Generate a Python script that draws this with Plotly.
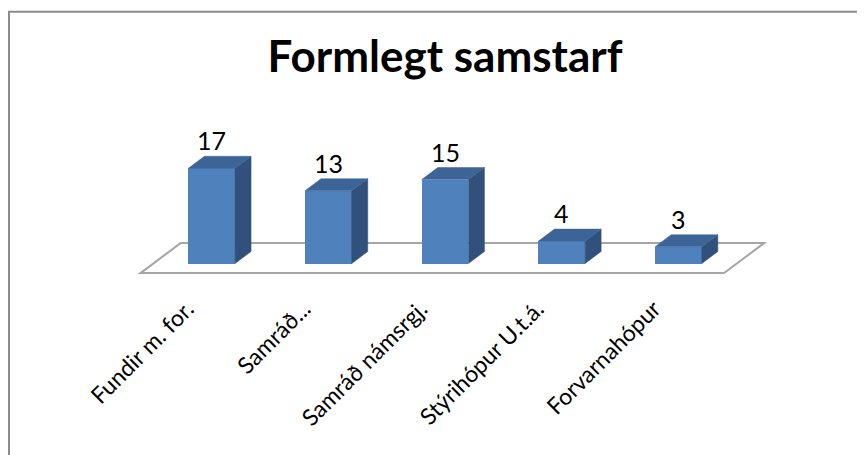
import plotly.graph_objects as go

# ---- data ----
categories = ["Fundir m. for.", "Samráð...", "Samráð námsrgj.", "Stýrihópur U.t.á.", "Forvarnahópur"]
values = [17, 13, 15, 4, 3]
title_text = "Formlegt samstarf"

# ---- style / geometry constants (oblique 3D look) ----
FONT = "Lato, Carlito, Calibri, 'Open Sans', sans-serif"
FRONT = "#4F81BD"
TOP = "#3C6496"
SIDE = "#31507B"
FLOOR_LINE = "#A6A6A6"
BAR_W = 0.4           # bar width in category units
DX = 0.3426           # x shift per unit depth (category units)
DY = 5.357            # y shift per unit depth (value units)
BAR_DEPTH = 0.4
FLOOR_FRONT = -0.32
FLOOR_BACK = 0.68
LABEL_SHIFT = -0.1    # category-label anchor offset (category units)

W, H = 857, 447
X_RANGE = [-1.7455, 5.598]
Y_RANGE = [-34.196, 45.625]


def proj(x, v, d):
    return x + d * DX, v + d * DY


fig = go.Figure()

# floor (drawn below everything)
n = len(categories)
corners = [proj(-0.5, 0, FLOOR_FRONT), proj(n - 0.5, 0, FLOOR_FRONT),
           proj(n - 0.5, 0, FLOOR_BACK), proj(-0.5, 0, FLOOR_BACK)]
path = "M " + " L ".join(f"{x},{y}" for x, y in corners) + " Z"
fig.add_shape(type="path", path=path, xref="x", yref="y", layer="below",
              line=dict(color=FLOOR_LINE, width=2), fillcolor="rgba(0,0,0,0)")

# front faces
fig.add_trace(go.Bar(x=list(range(n)), y=values, width=BAR_W,
                     marker=dict(color=FRONT, line=dict(width=0)),
                     hoverinfo="skip", showlegend=False))

# side and top faces
for i, v in enumerate(values):
    xr = i + BAR_W / 2
    xl = i - BAR_W / 2
    side = [proj(xr, 0, 0), proj(xr, 0, BAR_DEPTH), proj(xr, v, BAR_DEPTH), proj(xr, v, 0)]
    top = [proj(xl, v, 0), proj(xr, v, 0), proj(xr, v, BAR_DEPTH), proj(xl, v, BAR_DEPTH)]
    for pts, col in ((side, SIDE), (top, TOP)):
        fig.add_trace(go.Scatter(x=[p[0] for p in pts] + [pts[0][0]],
                                 y=[p[1] for p in pts] + [pts[0][1]],
                                 mode="lines", fill="toself", fillcolor=col,
                                 line=dict(color=col, width=0.5),
                                 hoverinfo="skip", showlegend=False))
    lx, ly = proj(i, v, BAR_DEPTH)
    fig.add_annotation(x=i, y=ly, text=str(v), showarrow=False, yshift=16,
                       yanchor="middle", xanchor="center",
                       font=dict(family=FONT, size=25, color="black"))

# border
fig.add_shape(type="rect", xref="paper", yref="paper",
              x0=1 / W, x1=1.2, y0=-0.2, y1=1 - 3.8 / H,
              line=dict(color="#8C8C8C", width=2), layer="below")

fig.update_layout(
    width=W, height=H,
    margin=dict(l=0, r=0, t=0, b=0),
    paper_bgcolor="white", plot_bgcolor="white",
    title=dict(text=f"<b>{title_text}</b>", x=437 / W, y=1 - 49 / H,
               xanchor="center", yanchor="middle", xref="paper", yref="paper",
               font=dict(family=FONT, size=44, color="black")),
    xaxis=dict(range=X_RANGE,
               tickvals=[i + FLOOR_FRONT * DX + LABEL_SHIFT for i in range(n)],
               ticktext=categories, tickangle=-45, showgrid=False, zeroline=False,
               showline=False, ticks="", anchor="free", position=1 - 282 / H,
               automargin=False,
               tickfont=dict(family=FONT, size=23, color="black"), fixedrange=True),
    yaxis=dict(range=Y_RANGE, visible=False, fixedrange=True),
    bargap=0,
)

fig.write_html("out.html")
